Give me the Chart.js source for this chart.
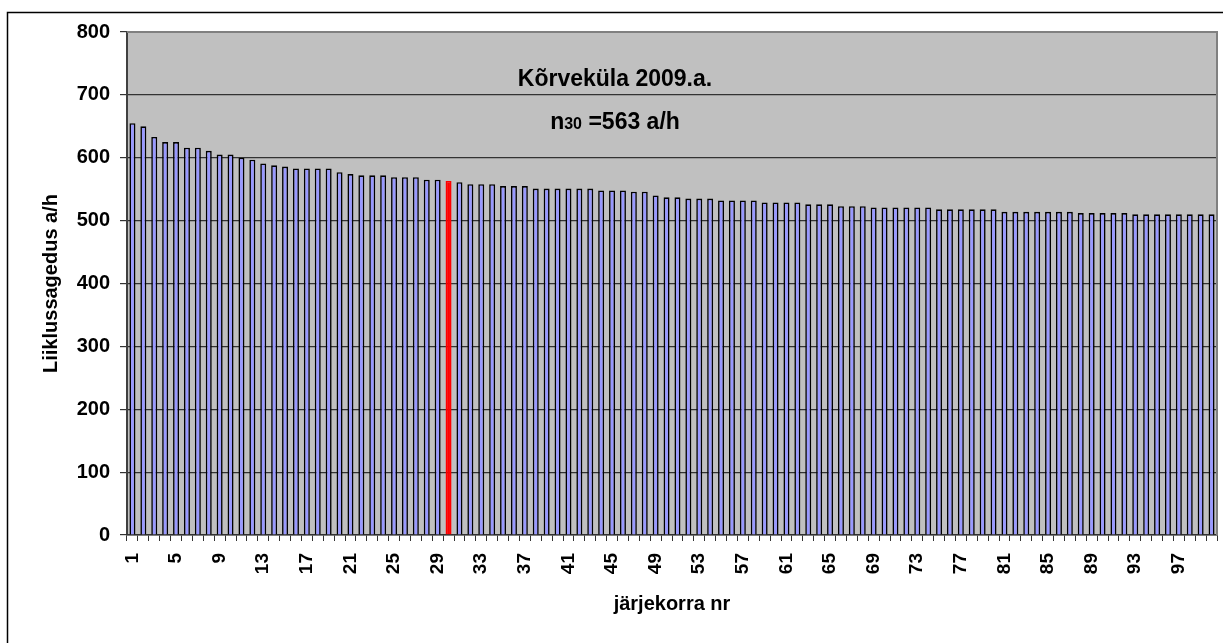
<!DOCTYPE html>
<html>
<head>
<meta charset="utf-8">
<script src="https://cdn.jsdelivr.net/npm/chart.js@4/dist/chart.umd.min.js"></script>
<style>
    body { margin: 0; background: #fff; }
    #wrap { width: 1223px; height: 643px; position: relative; }
</style>
</head>
<body>
<div id="wrap"><canvas id="chart"></canvas></div>
<script>
// ===== DATOS =====
const categorias = Array.from({ length: 100 }, (_, i) => String(i + 1));

const liiklussagedus = [
    655, 650, 633, 625, 625, 616, 616, 611, 605, 605,
    600, 597, 591, 588, 586, 583, 583, 583, 583, 577,
    574, 572, 572, 572, 569, 569, 569, 565, 565, 563,
    561, 558, 558, 558, 555, 555, 555, 551, 551, 551,
    551, 551, 551, 548, 548, 548, 546, 546, 540, 537,
    537, 535, 535, 535, 532, 532, 532, 532, 529, 529,
    529, 529, 526, 526, 526, 523, 523, 523, 521, 521,
    521, 521, 521, 521, 518, 518, 518, 518, 518, 518,
    514, 514, 514, 514, 514, 514, 514, 512, 512, 512,
    512, 512, 510, 510, 510, 510, 510, 510, 510, 510
];

const esiletostetud = 30;          // n30
const yTicks = [0, 100, 200, 300, 400, 500, 600, 700, 800];
const pealkiri = 'Kõrveküla 2009.a.';
const alapealkiri = ['n', '30', ' =563 a/h'];

const FONT = 'Arial, "Liberation Sans", sans-serif';

// fondo gris del área + bordes + texto interior
const plotPlugin = {
    id: 'plotDecor',
    beforeDraw(chart) {
        const { ctx, chartArea: a } = chart;
        ctx.save();
        ctx.fillStyle = '#C0C0C0';
        ctx.fillRect(a.left, a.top, a.right - a.left, a.bottom - a.top);
        // marco exterior
        ctx.strokeStyle = '#000';
        ctx.lineWidth = 1.5;
        ctx.beginPath();
        ctx.moveTo(7.5, 700);
        ctx.lineTo(7.5, 12.5);
        ctx.lineTo(1300, 12.5);
        ctx.stroke();
        ctx.restore();
    },
    afterDatasetsDraw(chart) {
        const { ctx, chartArea: a } = chart;
        ctx.save();
        ctx.strokeStyle = '#808080';
        ctx.lineWidth = 2;
        ctx.beginPath();
        ctx.moveTo(a.left, a.top);
        ctx.lineTo(a.right, a.top);
        ctx.lineTo(a.right, a.bottom);
        ctx.stroke();

        const cx = 615;
        ctx.fillStyle = '#000';
        ctx.textBaseline = 'middle';
        ctx.textAlign = 'center';
        ctx.font = 'bold 23px ' + FONT;
        ctx.fillText(pealkiri, cx, 80);

        // n30 =563 a/h  (30 más pequeño)
        const big = 'bold 23px ' + FONT;
        const small = 'bold 16px ' + FONT;
        ctx.font = big;
        const w1 = ctx.measureText(alapealkiri[0]).width;
        const w3 = ctx.measureText(alapealkiri[2]).width;
        ctx.font = small;
        const w2 = ctx.measureText(alapealkiri[1]).width;
        let x = cx - (w1 + w2 + w3) / 2;
        ctx.textAlign = 'left';
        ctx.textBaseline = 'alphabetic';
        ctx.font = big;
        ctx.fillText(alapealkiri[0], x, 129);
        x += w1;
        ctx.font = small;
        ctx.fillText(alapealkiri[1], x, 129);
        x += w2;
        ctx.font = big;
        ctx.fillText(alapealkiri[2], x, 129);
        ctx.restore();
    }
};

const colores = liiklussagedus.map((_, i) => (i + 1 === esiletostetud ? '#FF0000' : '#9999FF'));
const bordes = liiklussagedus.map((_, i) => (i + 1 === esiletostetud ? '#FF0000' : '#000000'));

new Chart(document.getElementById('chart').getContext('2d'), {
    type: 'bar',
    data: {
        labels: categorias,
        datasets: [{
            label: 'Liiklussagedus',
            data: liiklussagedus,
            backgroundColor: colores,
            borderColor: bordes,
            borderWidth: 1.6,
            barPercentage: 0.55,
            categoryPercentage: 1
        }]
    },
    options: {
        responsive: true,
        maintainAspectRatio: false,
        animation: false,
        layout: { padding: { left: 0, top: 32, right: 6, bottom: 0 } },
        plugins: {
            legend: { display: false },
            tooltip: { enabled: false }
        },
        scales: {
            y: {
                min: 0,
                max: 800,
                afterFit: (s) => { s.width = 127; },
                afterBuildTicks: (s) => { s.ticks = yTicks.map(v => ({ value: v })); },
                ticks: {
                    padding: 10,
                    color: '#000',
                    font: { family: FONT, size: 20, weight: 'bold' }
                },
                grid: {
                    color: '#333333',
                    lineWidth: 1.2,
                    tickLength: 7,
                    tickColor: '#333333'
                },
                border: { color: '#404040', width: 2 },
                title: {
                    display: true,
                    text: 'Liiklussagedus a/h',
                    color: '#000',
                    padding: { top: 39, bottom: 0 },
                    font: { family: FONT, size: 20, weight: 'bold' }
                }
            },
            x: {
                afterFit: (s) => {
                    s.height = 108;
                    s.paddingLeft = 0;
                    s.paddingRight = 0;
                },
                ticks: {
                    autoSkip: false,
                    minRotation: 90,
                    maxRotation: 90,
                    padding: 12,
                    color: '#000',
                    font: { family: FONT, size: 19, weight: 'bold' },
                    callback: function (val, idx) {
                        return idx % 4 === 0 ? this.getLabelForValue(val) : '';
                    }
                },
                grid: {
                    drawOnChartArea: false,
                    tickLength: 6,
                    tickColor: '#333333',
                    lineWidth: 1
                },
                border: { color: '#333333', width: 1.5 },
                title: {
                    display: true,
                    text: 'järjekorra nr',
                    color: '#000',
                    padding: { top: 0, bottom: 27 },
                    font: { family: FONT, size: 20, weight: 'bold' }
                }
            }
        }
    },
    plugins: [plotPlugin]
});
</script>
</body>
</html>
